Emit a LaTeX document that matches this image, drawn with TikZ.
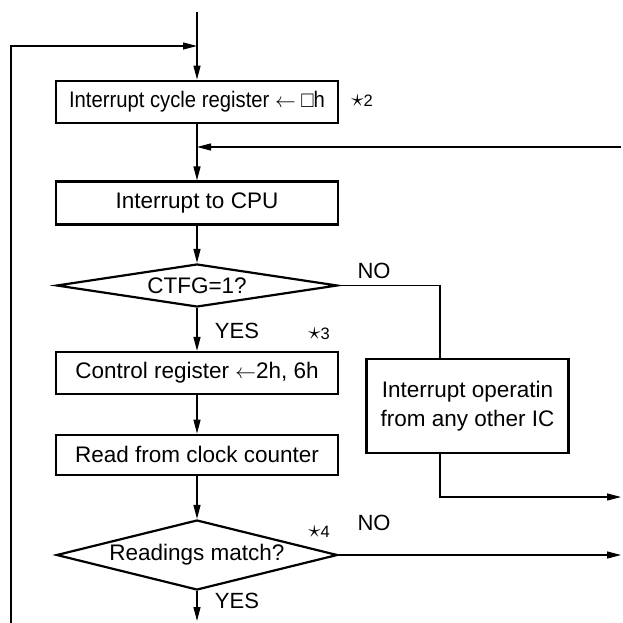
\documentclass[tikz,border=0pt]{standalone}
\usepackage{fontspec}
\setmainfont{Liberation Sans}
\usetikzlibrary{arrows.meta,shapes.geometric}
\newcommand{\lArrow}{$\leftarrow$}
\newcommand{\nStar}{{\fontsize{26}{26}\selectfont$\star$}}
\tikzset{
  cLine/.style={line width=1.3pt},
  cArrow/.style={cLine,-{Triangle[length=14pt,width=7pt]}},
  cBox/.style={draw,line width=2.2pt,inner sep=0pt,minimum width=282pt,
        minimum height=42pt,font=\fontsize{22.5}{29}\selectfont},
  cSide/.style={cBox,align=center,minimum width=202pt,minimum height=94pt},
  cDec/.style={cBox,diamond,minimum width=281pt},
  cNote/.style={font=\fontsize{16.5}{18}\selectfont,inner sep=0pt},
  cLabel/.style={font=\fontsize{22}{24}\selectfont},
}
\begin{document}
\begin{tikzpicture}[x=1pt,y=-1pt]
\useasboundingbox (0,0) rectangle (622,623);
\node[cBox]  (b1) at (197,101.7)
  {\addfontfeature{FakeStretch=0.9}Interrupt cycle register \lArrow\ □h};
\node[cBox,minimum height=43pt] (b2) at (197,203) {Interrupt to CPU};
\node[cDec,aspect=6.5,minimum height=43pt] (d1) at (197,285.5) {CTFG=1?};
\node[cBox]  (b3) at (197,373) {Control register \lArrow2h, 6h};
\node[cBox,minimum height=40pt] (b4) at (197,454.7) {Read from clock counter};
\node[cDec,aspect=4,minimum height=70pt] (d2) at (197,555) {Readings match?};
\node[cSide] (b5) at (467.5,406.3) {Interrupt operatin\\from any other IC};
% notes and branch labels
\node[cNote]  (n2) at (362,101) {\nStar2};
\node[cNote]  (n3) at (319,334) {\nStar3};
\node[cNote]  (n4) at (319,532) {\nStar4};
\node[cLabel] (no1) at (374,271) {NO};
\node[cLabel] (no2) at (374,523) {NO};
\node[cLabel] (yes1) at (237,331) {YES};
\node[cLabel] (yes2) at (237,601) {YES};
% free ends
\coordinate (top) at (197,12);
\coordinate (loopbot) at (11,623);
\coordinate (join1) at (197,46);
\coordinate (rin) at (621,147);
\coordinate (join2) at (197,147);
\coordinate (k1) at (440,285.5);
\coordinate (out1) at (621,497);
\coordinate (bot) at (197,621);
\draw[cArrow] (top) -- (b1);
\draw[cArrow] (loopbot) |- (join1);
\draw[cArrow] (b1) -- (b2);
\draw[cArrow] (rin) -- (join2);
\draw[cArrow] (b2) -- (d1);
\draw[cArrow] (d1) -- (b3);
\draw[cArrow] (b3) -- (b4);
\draw[cArrow] (b4) -- (d2);
\draw[cArrow] (d2) -- (bot);
\draw[cLine] (d1.east) -- (k1) -- (k1 |- b5.north);
\draw[cArrow] (k1 |- b5.south) |- (out1);
\draw[cArrow] (d2.east) -- (d2.east -| out1);
\end{tikzpicture}
\end{document}
